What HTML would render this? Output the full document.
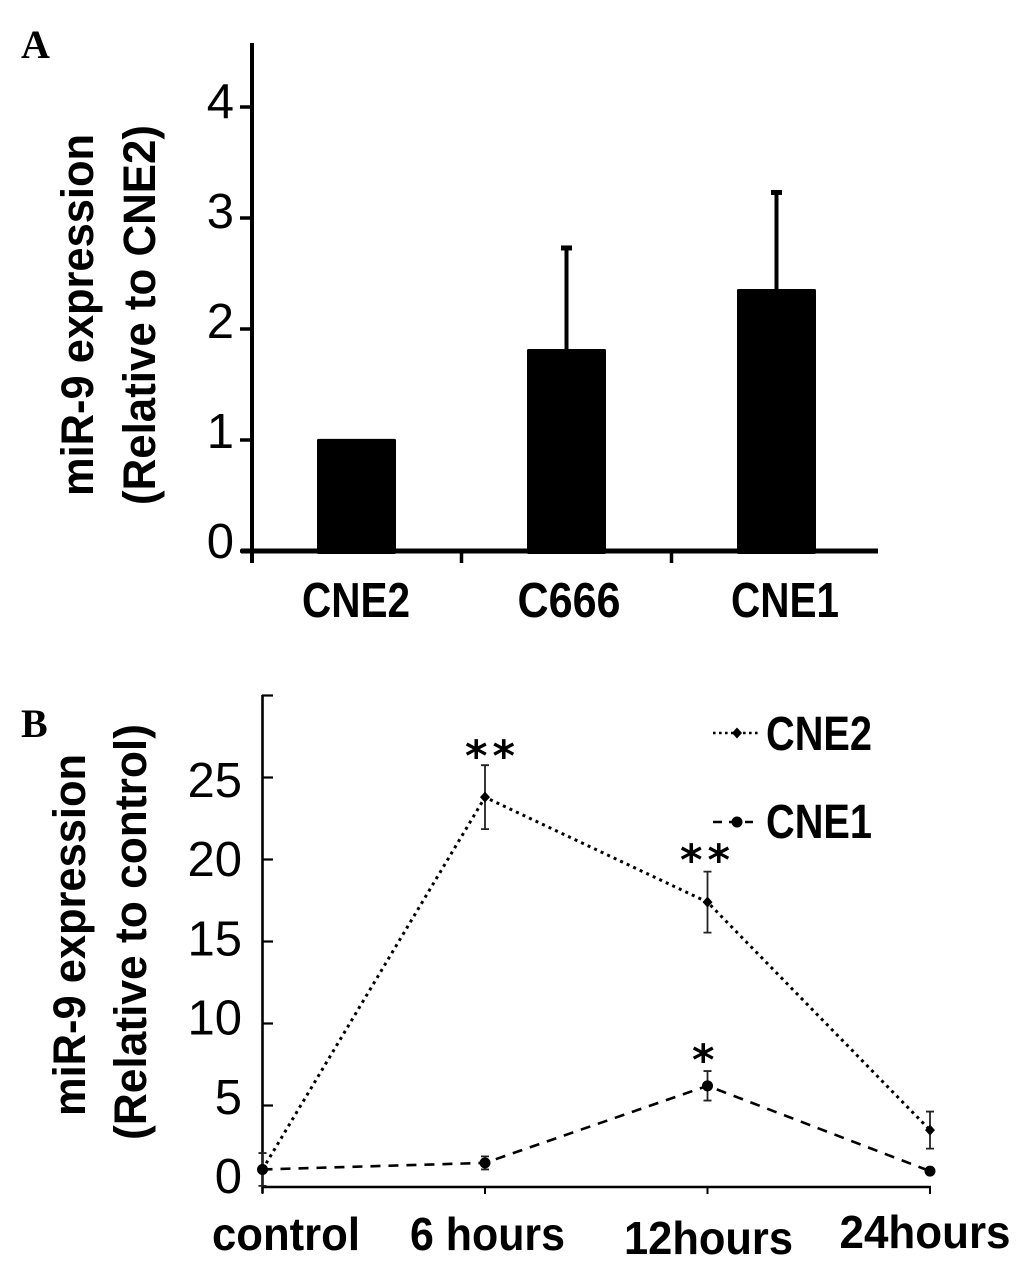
<!DOCTYPE html>
<html>
<head>
<meta charset="utf-8">
<title>miR-9 expression</title>
<style>
html,body{margin:0;padding:0;background:#fff;}
svg{display:block;}
text{font-family:"Liberation Sans",sans-serif;fill:#000;}
.lab{font-weight:bold;}
.num{font-size:49px;text-anchor:end;}
.panel{font-family:"Liberation Serif",serif;font-weight:bold;font-size:40px;}
.star{font-family:"DejaVu Sans",sans-serif;font-size:43px;font-weight:bold;letter-spacing:5px;}
</style>
</head>
<body>
<svg id="fig" xmlns="http://www.w3.org/2000/svg" width="1033" height="1261" viewBox="0 0 1033 1261">
  <text class="panel" x="21" y="58">A</text>
  <text class="panel" x="21" y="737">B</text>
  <text class="lab" font-size="45" text-anchor="middle" textLength="362" lengthAdjust="spacingAndGlyphs" transform="translate(93,315) rotate(-90)">miR-9 expression</text>
  <text class="lab" font-size="45" text-anchor="middle" textLength="380" lengthAdjust="spacingAndGlyphs" transform="translate(155,315) rotate(-90)">(Relative to CNE2)</text>
  <text class="lab" font-size="45" text-anchor="middle" textLength="362" lengthAdjust="spacingAndGlyphs" transform="translate(85,935) rotate(-90)">miR-9 expression</text>
  <text class="lab" font-size="45" text-anchor="middle" textLength="416" lengthAdjust="spacingAndGlyphs" transform="translate(146,932) rotate(-90)">(Relative to control)</text>
  <g id="a"></g>
  <g id="b"></g>
  <g>
    <g>
      <line x1="713" y1="733" x2="760" y2="733" stroke="#000" stroke-width="2.6" stroke-dasharray="2.6 3.4"/>
      <path d="M737 727.5L742 733L737 738.5L732 733Z" fill="#000"/>
      <text class="lab" x="766" y="750" font-size="48" textLength="106" lengthAdjust="spacingAndGlyphs">CNE2</text>
    </g>
    <g>
      <line x1="713" y1="822" x2="753" y2="822" stroke="#000" stroke-width="2.6" stroke-dasharray="9 7"/>
      <circle cx="737" cy="822" r="5.5" fill="#000"/>
      <text class="lab" x="766" y="838" font-size="48" textLength="106" lengthAdjust="spacingAndGlyphs">CNE1</text>
    </g>
  </g>
  <text class="star" x="465" y="771">**</text>
  <text class="star" x="680" y="875">**</text>
  <text class="star" x="692" y="1075">*</text>
</svg>
<script>
// Panel A data
const barCategories = ["CNE2", "C666", "CNE1"];
const barValues = [1.01, 1.82, 2.36];
const barErrors = [0.01, 0.91, 0.87];
const barTicks = [0, 1, 2, 3, 4];

// Panel B data
const timeCategories = ["control", "6 hours", "12hours", "24hours"];
const cne2Values = [1.1, 23.8, 17.4, 3.5];
const cne2Errors = [1.0, 1.95, 1.86, 1.13];
const cne1Values = [1.1, 1.5, 6.2, 1.0];
const cne1Errors = [0.1, 0.4, 0.9, 0.1];
const lineTicks = [0, 5, 10, 15, 20, 25, 30];
const lineTickLabels = ["0", "5", "10", "15", "20", "25", ""];

const NS = "http://www.w3.org/2000/svg";
function mk(parent, tag, attrs, txt) {
  const el = document.createElementNS(NS, tag);
  for (const k in attrs) el.setAttribute(k, attrs[k]);
  if (txt !== undefined) el.textContent = txt;
  parent.appendChild(el);
  return el;
}

// ---- Panel A ----
const A = document.getElementById("a");
const ay = v => 551 - v * 111;
const ax = i => 356.5 + i * 210;
const aLabelY = v => 558 - v * 110;
const aLabelPos = [[356, 108], [569, 103], [785, 108]];
let el;
el = mk(A, "line", {x1: 252, y1: 43, x2: 252, y2: 563, stroke: "#000", "stroke-width": 4});


el = mk(A, "line", {x1: 241, y1: 551, x2: 878, y2: 551, stroke: "#000", "stroke-width": 5});


barTicks.forEach(v => {
  el = mk(A, "line", {x1: 240, y1: ay(v), x2: 252, y2: ay(v), stroke: "#000", "stroke-width": 3.5});
  
  
  el = mk(A, "text", {class: "num", x: 234, y: aLabelY(v)}, String(v));
  
  
});
barCategories.forEach((c, i) => {
  const cx = ax(i);
  const top = ay(barValues[i]);
  if (i < barCategories.length - 1) {
    el = mk(A, "line", {x1: ax(i) + 105, y1: 551, x2: ax(i) + 105, y2: 563, stroke: "#000", "stroke-width": 3.5});
    
    
  }
  if (barErrors[i] > 0.05) {
    const et = ay(barValues[i] + barErrors[i]);
    el = mk(A, "line", {x1: cx, y1: et, x2: cx, y2: top, stroke: "#000", "stroke-width": 4});
    
    
    el = mk(A, "rect", {x: cx - 5.5, y: et - 2.5, width: 11, height: 5, fill: "#000"});
    
    
  }
  el = mk(A, "rect", {x: cx - 39.5, y: top, width: 79, height: 554 - top, rx: 1.5, fill: "#000"});
  
  
  el = mk(A, "text", {class: "lab", x: aLabelPos[i][0], y: 617, "font-size": 49, "text-anchor": "middle", textLength: aLabelPos[i][1], lengthAdjust: "spacingAndGlyphs"}, c);
  
  
});

// ---- Panel B ----
const B = document.getElementById("b");
const by = v => 1187.5 - v * 16.4;
const bx = i => 262.5 + i * 222.5;
const bLabelY = v => 1193 - v * 15.84;
const bLabelPos = [[286, 1250, 148], [487.5, 1250, 155], [708.5, 1254, 169], [925, 1248, 171]];
el = mk(B, "line", {x1: 262.5, y1: 695, x2: 262.5, y2: 1193, stroke: "#000", "stroke-width": 2.6});


el = mk(B, "line", {x1: 262, y1: 1187, x2: 931, y2: 1187, stroke: "#000", "stroke-width": 2.6});


lineTicks.forEach((v, i) => {
  if (v > 0) {
    el = mk(B, "line", {x1: 262, y1: by(v), x2: 273, y2: by(v), stroke: "#000", "stroke-width": 2.2});
    
    
  }
  if (lineTickLabels[i]) {
    el = mk(B, "text", {class: "num", x: 242, y: bLabelY(v)}, lineTickLabels[i]);
    
    
  }
});
timeCategories.forEach((c, i) => {
  el = mk(B, "line", {x1: bx(i), y1: 1187, x2: bx(i), y2: 1194, stroke: "#000", "stroke-width": 2});
  
  
  el = mk(B, "text", {class: "lab", x: bLabelPos[i][0], y: bLabelPos[i][1], "font-size": 46, "text-anchor": "middle", textLength: bLabelPos[i][2], lengthAdjust: "spacingAndGlyphs"}, c);
  
  
});
function errorBars(values, errors) {
  values.forEach((v, i) => {
    const x = bx(i), t = by(v + errors[i]), b = by(v - errors[i]);
    const d = "M" + x + " " + t + "V" + b + "M" + (x - 4) + " " + t + "H" + (x + 4) + "M" + (x - 4) + " " + b + "H" + (x + 4);
    el = mk(B, "path", {d: d, stroke: "#222", "stroke-width": 1.8, fill: "none"});
    
    
  });
}
errorBars(cne2Values, cne2Errors);
errorBars(cne1Values, cne1Errors);
el = mk(B, "polyline", {points: cne2Values.map((v, i) => bx(i) + "," + by(v)).join(" "), fill: "none", stroke: "#000", "stroke-width": 3, "stroke-dasharray": "3 4.2"});


el = mk(B, "polyline", {points: cne1Values.map((v, i) => bx(i) + "," + by(v)).join(" "), fill: "none", stroke: "#000", "stroke-width": 2.6, "stroke-dasharray": "10 8"});


cne2Values.forEach((v, i) => {
  const x = bx(i), y = by(v);
  el = mk(B, "path", {d: "M" + x + " " + (y - 5.5) + "L" + (x + 5) + " " + y + "L" + x + " " + (y + 5.5) + "L" + (x - 5) + " " + y + "Z", fill: "#000"});
  
  
});
cne1Values.forEach((v, i) => {
  el = mk(B, "circle", {cx: bx(i), cy: by(v), r: 5.5, fill: "#000"});
  
  
});
</script>
</body>
</html>
